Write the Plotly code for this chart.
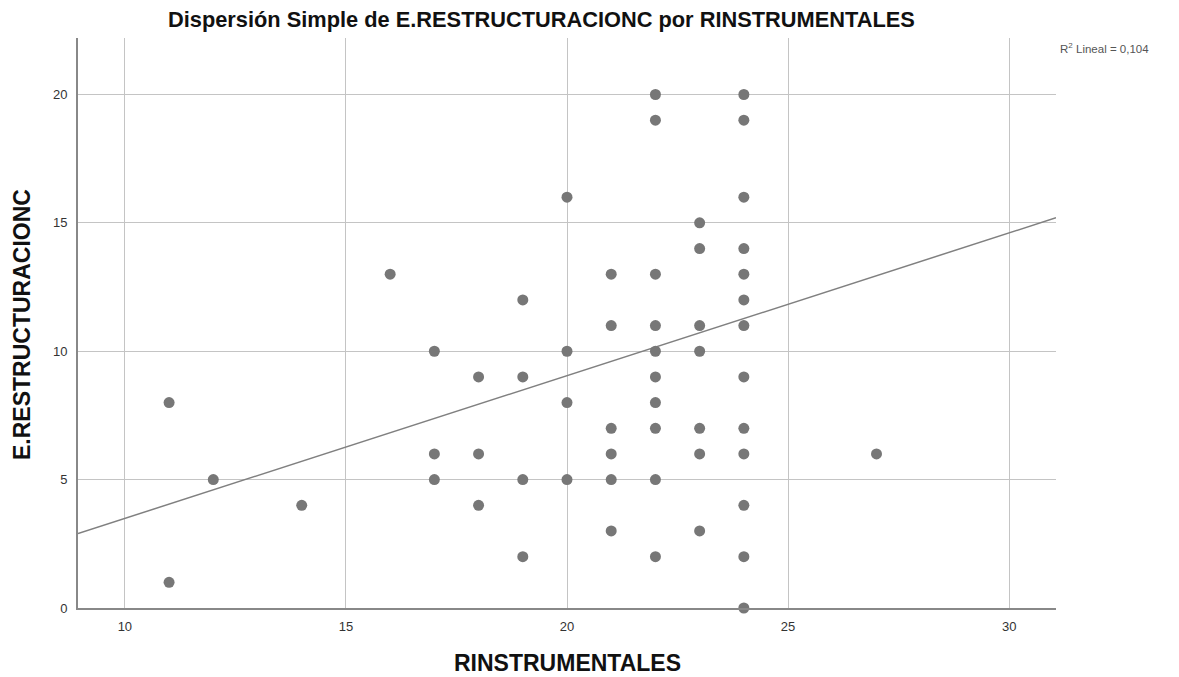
import numpy as np
import plotly.graph_objects as go

# Data (RINSTRUMENTALES, E.RESTRUCTURACIONC)
x_vals = [11, 11, 12, 14, 16,
          17, 17, 17,
          18, 18, 18,
          19, 19, 19, 19,
          20, 20, 20, 20,
          21, 21, 21, 21, 21, 21,
          22, 22, 22, 22, 22, 22, 22, 22, 22, 22,
          23, 23, 23, 23, 23, 23, 23,
          24, 24, 24, 24, 24, 24, 24, 24, 24, 24, 24, 24, 24,
          27]
y_vals = [8, 1, 5, 4, 13,
          10, 6, 5,
          9, 6, 4,
          12, 9, 5, 2,
          16, 10, 8, 5,
          13, 11, 7, 6, 5, 3,
          20, 19, 13, 11, 10, 9, 8, 7, 5, 2,
          15, 14, 11, 10, 7, 6, 3,
          20, 19, 16, 14, 13, 12, 11, 9, 7, 6, 4, 2, 0,
          6]
x_ticks = [10, 15, 20, 25, 30]
y_ticks = [0, 5, 10, 15, 20]
x_range = [8.94, 31.06]
y_range = [0, 22.2]
# Linear fit line (includes overlapping cases)
fit_intercept = -2.07
fit_slope = 0.556
r2_text = "R<sup>2</sup> Lineal = 0,104"

line_x = np.array(x_range)
line_y = fit_intercept + fit_slope * line_x

FONT = "Liberation Sans, Arial, sans-serif"
# page body adds an 8px offset; plot area in window px: x 78..1056, y 38..608
PX0, PX1, PY0, PY1 = 78, 1056, 38, 608


def px(xw):
    return (xw - PX0) / (PX1 - PX0)


def py(yw):
    return (PY1 - yw) / (PY1 - PY0)


fig = go.Figure()
fig.add_trace(go.Scatter(x=line_x, y=line_y, mode="lines",
                         line=dict(color="#808080", width=1.5),
                         showlegend=False, hoverinfo="skip"))
fig.add_trace(go.Scatter(x=x_vals, y=y_vals, mode="markers",
                         marker=dict(color="#777777", size=11, line=dict(width=0)),
                         showlegend=False, cliponaxis=False))

fig.update_layout(
    width=1171, height=669,
    margin=dict(l=70, r=123, t=30, b=69, autoexpand=False),
    paper_bgcolor="white", plot_bgcolor="white",
    font=dict(family=FONT, color="#222222"),
    xaxis=dict(range=x_range, tickvals=x_ticks, showgrid=True, gridcolor="#c4c4c4",
               gridwidth=1.2, zeroline=False, showline=True, linecolor="#888888",
               linewidth=2, ticks="", tickfont=dict(size=13, color="#333333"),
               ticklabelstandoff=5, automargin=False),
    yaxis=dict(range=y_range, tickvals=y_ticks, showgrid=True, gridcolor="#c4c4c4",
               gridwidth=1.2, zeroline=False, showline=True, linecolor="#888888",
               linewidth=2, ticks="", tickfont=dict(size=13, color="#333333"),
               ticklabelstandoff=6, automargin=False),
)
# Chart title
fig.add_annotation(text="<b>Dispersión Simple de E.RESTRUCTURACIONC por RINSTRUMENTALES</b>",
                   xref="paper", yref="paper", x=px(541), y=py(20),
                   xanchor="center", yanchor="middle", showarrow=False,
                   font=dict(family=FONT, size=21.8, color="#111111"))
# Axis titles
fig.add_annotation(text="<b>RINSTRUMENTALES</b>", xref="paper", yref="paper",
                   x=px(567), y=py(663), xanchor="center", yanchor="middle",
                   showarrow=False, font=dict(family=FONT, size=23, color="#111111"))
fig.add_annotation(text="<b>E.RESTRUCTURACIONC</b>", xref="paper", yref="paper",
                   x=px(22), y=py(325), xanchor="center",
                   yanchor="middle", textangle=-90, showarrow=False,
                   font=dict(family=FONT, size=23, color="#111111"))
fig.add_annotation(text=r2_text, xref="paper", yref="paper",
                   x=px(1058), y=py(48), xanchor="left", yanchor="middle",
                   showarrow=False, font=dict(family=FONT, size=11.5, color="#555555"))

fig.write_html("out.html")
